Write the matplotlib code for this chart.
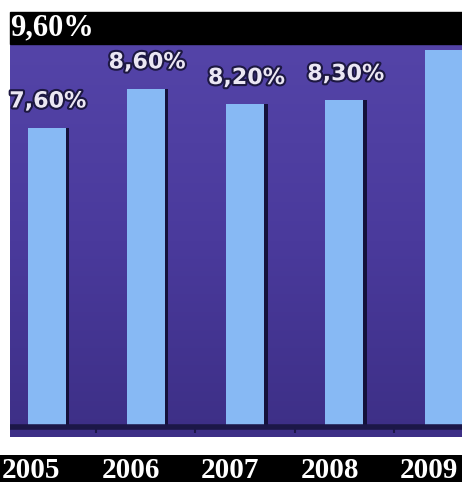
import numpy as np
import matplotlib
matplotlib.use('Agg')
import matplotlib.pyplot as plt
import matplotlib.patheffects as pe
from matplotlib.patches import Rectangle
from matplotlib.colors import LinearSegmentedColormap

# growth rates per year
years = ['2005', '2006', '2007', '2008', '2009']
rates = [7.6, 8.6, 8.2, 8.3, 9.6]
rate_labels = ['7,60%', '8,60%', '8,20%', '8,30%', '9,60%']

W, H = 462, 482
fig = plt.figure(figsize=(W / 100, H / 100), dpi=100)
fig.patch.set_facecolor('white')

# black header strip with the last value
fig.patches.append(Rectangle((10 / W, 1 - 44 / H), 1, 32 / H,
                             transform=fig.transFigure, color='black', zorder=0))
fig.text(10 / W, 1 - 28 / H, rate_labels[-1], ha='left', va='center',
         fontsize=22, fontweight='bold', family='Liberation Serif', color='white')

# main chart area
ax = fig.add_axes([10 / W, 45 / H, 452 / W, 392 / H])
x = np.arange(len(years))
x0, x1 = -0.368, 4.184
y0, y1 = -0.31, 9.72
ax.set_xlim(x0, x1)
ax.set_ylim(y0, y1)

bg = LinearSegmentedColormap.from_list('bg', ['#3d2f86', '#4a3a9c', '#5444a8'])
ax.imshow(np.linspace(0, 1, 256).reshape(-1, 1), extent=[x0, x1, y0, y1],
          aspect='auto', origin='lower', cmap=bg, zorder=0)

# dark shadow, then the bars
ax.bar(x + 0.035, rates, width=0.383, color='#15113a', zorder=2)
ax.bar(x, rates, width=0.383, color='#87b9f4', zorder=3)

# baseline and ticks between bars
ax.axhline(-0.06, color='#1c1748', lw=4, zorder=4)
ax.vlines(x[:-1] + 0.5, -0.22, 0, color='#1c1748', lw=1.5, zorder=4)

for xi, v, lab in zip(x[:-1], rates[:-1], rate_labels[:-1]):
    ax.annotate(lab, (xi, v), xytext=(1, 19), textcoords='offset points',
                ha='center', va='center', fontsize=16, fontweight='bold',
                color='#ebe7f3',
                path_effects=[pe.withStroke(linewidth=3, foreground='#1d1842')],
                zorder=5)

ax.set_xticks([])
ax.set_yticks([])
for s in ax.spines.values():
    s.set_visible(False)

# year band at the bottom
bx = fig.add_axes([0, 0, 1, 27 / H])
bx.set_facecolor('black')
bx.set_xlim(-0.312, 4.33)
bx.set_ylim(0, 1)
for xi, yr in zip(x, years):
    bx.text(xi, 0.42, yr, ha='center', va='center', fontsize=21,
            fontweight='bold', family='Liberation Serif', color='white')
bx.set_xticks([])
bx.set_yticks([])
for s in bx.spines.values():
    s.set_visible(False)

fig.savefig('out.png', dpi=100, facecolor='white')
